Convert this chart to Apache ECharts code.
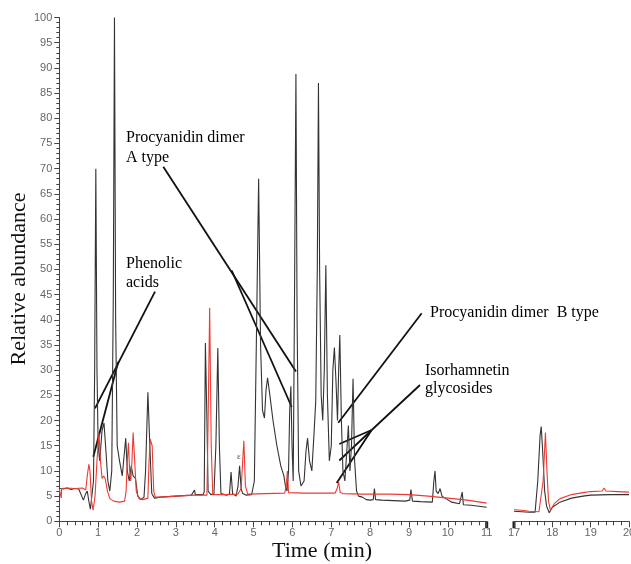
<!DOCTYPE html>
<html>
<head>
<meta charset="utf-8">
<script src="https://cdn.jsdelivr.net/npm/echarts@6/dist/echarts.min.js"></script>
<style>
html, body { margin: 0; padding: 0; background: #fff; }
#main { width: 631px; height: 564px; }
</style>
</head>
<body>
<div id="main"></div>
<script>
// black trace, 0-11 min
var blackTime = [0, 0.1, 0.2, 0.3, 0.4, 0.5, 0.55, 0.62, 0.68, 0.72, 0.76, 0.8, 0.84, 0.88, 0.91, 0.94, 0.97, 1.0, 1.04, 1.1,
    1.15, 1.2, 1.25, 1.3, 1.35, 1.39, 1.42, 1.45, 1.49, 1.55, 1.62, 1.68, 1.71, 1.75, 1.8, 1.85, 1.9, 1.96, 2.02, 2.1,
    2.18, 2.22, 2.28, 2.33, 2.38, 2.45, 2.6, 3.0, 3.4, 3.48, 3.5, 3.52, 3.7, 3.73, 3.76, 3.8, 3.83, 3.9, 3.98, 4.03,
    4.08, 4.12, 4.16, 4.3, 4.38, 4.42, 4.46, 4.55, 4.6, 4.64, 4.68, 4.72, 4.8, 4.95, 5.02, 5.08, 5.13, 5.18, 5.23, 5.28,
    5.32, 5.36, 5.42, 5.5, 5.6, 5.7, 5.78, 5.82, 5.86, 5.9, 5.93, 5.96, 5.99, 6.02, 6.05, 6.09, 6.12, 6.16, 6.22, 6.3,
    6.35, 6.39, 6.44, 6.5, 6.56, 6.6, 6.64, 6.67, 6.7, 6.74, 6.78, 6.82, 6.86, 6.9, 6.95, 7.0, 7.04, 7.08, 7.12, 7.16,
    7.19, 7.22, 7.26, 7.3, 7.35, 7.4, 7.44, 7.48, 7.52, 7.56, 7.6, 7.65, 7.7, 7.8, 7.9, 8.0, 8.08, 8.11, 8.14, 8.3,
    8.6, 8.9, 9.02, 9.05, 9.09, 9.3, 9.6, 9.64, 9.67, 9.7, 9.75, 9.8, 9.85, 9.95, 10.1, 10.3, 10.34, 10.37, 10.4, 10.6,
    10.8, 11.0];
var blackAbund = [6.5, 6.4, 6.6, 6.3, 6.5, 6.4, 6.3, 4.2, 5.5, 6.0, 4.0, 2.4, 2.5, 8, 30, 70, 30, 15, 12, 18,
    19.5, 14, 8, 6, 10, 45, 100, 40, 15, 12, 9, 14, 16.5, 10, 8, 11, 9, 8.5, 5, 4.3,
    4.8, 10, 25.6, 15, 5.5, 4.6, 4.8, 5.0, 5.2, 6.2, 5.3, 5.4, 5.3, 5.8, 35.4, 20, 6, 5.3, 5.4, 15,
    34.4, 15, 5.5, 5.2, 5.4, 9.8, 5.5, 5.0, 7, 11, 6.5, 5.5, 5.2, 5.3, 8, 40, 68, 35, 22, 20.5,
    26, 28.5, 25, 20, 15, 11, 9, 7, 6, 10, 22, 26.8, 15, 8, 40, 88.8, 40, 10, 7, 8,
    14, 16.5, 12, 10, 18, 23.8, 50, 87, 50, 25, 20, 30, 50.8, 25, 12, 15, 30, 34.5, 28, 20,
    30, 37, 20, 10, 8, 14, 19, 10, 15, 28.3, 12, 6, 5, 4.8, 4.3, 4.2, 4.3, 6.5, 4.3, 4.2,
    4.1, 4.0, 4.2, 6.3, 4.0, 3.9, 3.8, 8, 10, 6, 5.5, 6.5, 5, 4.5, 3.8, 3.5, 3.5, 5.8, 3.3, 3.2,
    3.0, 2.8];

// red trace, 0-11 min
var redTime = [0, 0.04, 0.05, 0.06, 0.2, 0.4, 0.6, 0.68, 0.72, 0.76, 0.79, 0.83, 0.87, 0.92, 0.97, 1.02, 1.06, 1.1, 1.14, 1.18,
    1.24, 1.3, 1.4, 1.55, 1.68, 1.72, 1.75, 1.78, 1.81, 1.84, 1.87, 1.9, 1.94, 1.98, 2.05, 2.15, 2.28, 2.31, 2.34, 2.39,
    2.43, 2.47, 2.6, 3.0, 3.5, 3.8, 3.83, 3.87, 3.91, 3.95, 4.3, 4.6, 4.68, 4.72, 4.75, 4.79, 4.85, 5.3, 5.8, 5.84,
    5.87, 5.9, 6.3, 6.8, 7.1, 7.15, 7.19, 7.23, 7.3, 7.8, 8.5, 9.0, 9.5, 10.0, 10.5, 11.0];
var redAbund = [6.4, 6.5, 4.6, 6.5, 6.6, 6.5, 6.6, 6.2, 9, 11.3, 10, 4, 2.2, 5, 12, 17.5, 12, 8.5, 9, 8.5,
    6, 4.5, 4, 3.8, 4, 6, 12, 15.6, 10, 8, 12, 17.6, 12, 6, 4.5, 4.3, 4.6, 12, 16.3, 15,
    6, 4.8, 4.8, 5.0, 5.2, 5.2, 20, 42.4, 15, 5.3, 5.3, 5.4, 6.5, 12, 16, 7, 5.4, 5.5, 5.6, 7,
    10, 5.7, 5.6, 5.6, 5.6, 6.5, 7.8, 5.7, 5.5, 5.4, 5.4, 5.3, 5.0, 4.6, 4.2, 3.6];

// 17-20 min segment
var blackTime2 = [17.0, 17.2, 17.4, 17.55, 17.62, 17.68, 17.71, 17.74, 17.8, 17.85, 17.92, 18.0, 18.2, 18.5, 18.8, 19.0, 19.5, 20.0];
var blackAbund2 = [2.0, 1.9, 1.8, 1.8, 8, 17, 18.8, 15, 6, 3, 1.7, 2.8, 3.8, 4.6, 5.0, 5.2, 5.3, 5.3];
var redTime2 = [17.0, 17.2, 17.4, 17.65, 17.76, 17.82, 17.86, 17.9, 17.95, 18.05, 18.2, 18.5, 18.8, 19.0, 19.3, 19.35, 19.4, 19.7, 20.0];
var redAbund2 = [2.3, 2.2, 2.0, 1.9, 8, 17.6, 10, 4, 2.2, 3.5, 4.5, 5.3, 5.7, 5.9, 6.0, 6.6, 6.0, 5.9, 5.8];

function pairs(t, v) { return t.map(function (x, i) { return [x, v[i]]; }); }

var tickFont = 'Liberation Sans, Arial, sans-serif';
var serif = 'Liberation Serif, Times New Roman, serif';

var chart = echarts.init(document.getElementById('main'));

var axisCommon = {
    type: 'value',
    axisLine: { show: true, lineStyle: { color: '#444', width: 1 } },
    axisTick: { show: true, length: 6, lineStyle: { color: '#444' } },
    minorTick: { show: true, splitNumber: 5, length: 4, lineStyle: { color: '#444' } },
    splitLine: { show: false },
    axisLabel: { color: '#666', fontSize: 11, fontFamily: tickFont, margin: 6 }
};

var option = {
    animation: false,
    grid: [
        { left: 59.3, top: 17.5, width: 427.4, height: 503.8, outerBoundsMode: 'none' },
        { left: 514, top: 17.5, width: 115, height: 503.8, outerBoundsMode: 'none' }
    ],
    xAxis: [
        Object.assign({}, axisCommon, { gridIndex: 0, min: 0, max: 11, interval: 1 }),
        Object.assign({}, axisCommon, { gridIndex: 1, min: 17, max: 20, interval: 1 })
    ],
    yAxis: [
        Object.assign({}, axisCommon, {
            gridIndex: 0, min: 0, max: 100, interval: 5,
            axisTick: { show: true, length: 5, lineStyle: { color: '#444' } },
            minorTick: { show: true, splitNumber: 5, length: 3, lineStyle: { color: '#444' } },
            axisLabel: { color: '#666', fontSize: 11, fontFamily: tickFont, margin: 7 }
        }),
        { type: 'value', gridIndex: 1, min: 0, max: 100, show: false }
    ],
    series: [
        { type: 'line', xAxisIndex: 0, yAxisIndex: 0, data: pairs(blackTime, blackAbund), showSymbol: false,
          lineStyle: { color: '#333', width: 1.1 } },
        { type: 'line', xAxisIndex: 0, yAxisIndex: 0, data: pairs(redTime, redAbund), showSymbol: false,
          lineStyle: { color: '#ee3a32', width: 1.1 } },
        { type: 'line', xAxisIndex: 1, yAxisIndex: 1, data: pairs(blackTime2, blackAbund2), showSymbol: false,
          lineStyle: { color: '#333', width: 1.1 } },
        { type: 'line', xAxisIndex: 1, yAxisIndex: 1, data: pairs(redTime2, redAbund2), showSymbol: false,
          lineStyle: { color: '#ee3a32', width: 1.1 } }
    ]
};
chart.setOption(option);

// annotations and end ticks
function label(x, y, text) {
    return { type: 'text', x: x, y: y, style: { text: text, fill: '#000', font: '16px ' + serif, textVerticalAlign: 'middle' } };
}
function leader(a, b) {
    return { type: 'line', shape: { x1: a[0], y1: a[1], x2: b[0], y2: b[1] }, style: { stroke: '#111', lineWidth: 1.8 } };
}
var p11 = chart.convertToPixel({ xAxisIndex: 0, yAxisIndex: 0 }, [11, 0]);
var p17 = chart.convertToPixel({ xAxisIndex: 1, yAxisIndex: 1 }, [17, 0]);

chart.setOption({
    graphic: [
        { type: 'line', shape: { x1: p11[0], y1: p11[1], x2: p11[0], y2: p11[1] + 7 }, style: { stroke: '#222', lineWidth: 3 } },
        { type: 'line', shape: { x1: p17[0], y1: p17[1], x2: p17[0], y2: p17[1] + 7 }, style: { stroke: '#222', lineWidth: 3 } },
        label(126, 138, 'Procyanidin dimer'),
        label(126, 157.5, 'A type'),
        label(126, 264, 'Phenolic'),
        label(126, 283, 'acids'),
        label(430, 313, 'Procyanidin dimer  B type'),
        label(425, 370.5, 'Isorhamnetin'),
        label(425, 388.5, 'glycosides'),
        leader([163.3, 166.7], [296, 371.5]),
        leader([231.7, 270.5], [291.7, 407]),
        leader([155, 291.7], [95, 408.3]),
        leader([118.3, 361.7], [93.3, 456.7]),
        leader([421.7, 313.3], [338.3, 422.7]),
        leader([420, 385], [371.7, 430]),
        leader([371.7, 430], [339.3, 444]),
        leader([371.7, 430], [339.3, 460.5]),
        leader([371.7, 430], [336.7, 483]),
        { type: 'text', x: 239, y: 457, style: { text: 'ε', fill: '#555', font: '9px ' + serif, textAlign: 'center', textVerticalAlign: 'middle' } },
        { type: 'text', x: 322, y: 551, style: { text: 'Time (min)', fill: '#111', font: '22px ' + serif, textAlign: 'center', textVerticalAlign: 'middle' } },
        { type: 'text', x: 19, y: 279, rotation: Math.PI / 2,
          style: { text: 'Relative abundance', fill: '#111', font: '22px ' + serif, textAlign: 'center', textVerticalAlign: 'middle' } }
    ]
});
</script>
</body>
</html>
